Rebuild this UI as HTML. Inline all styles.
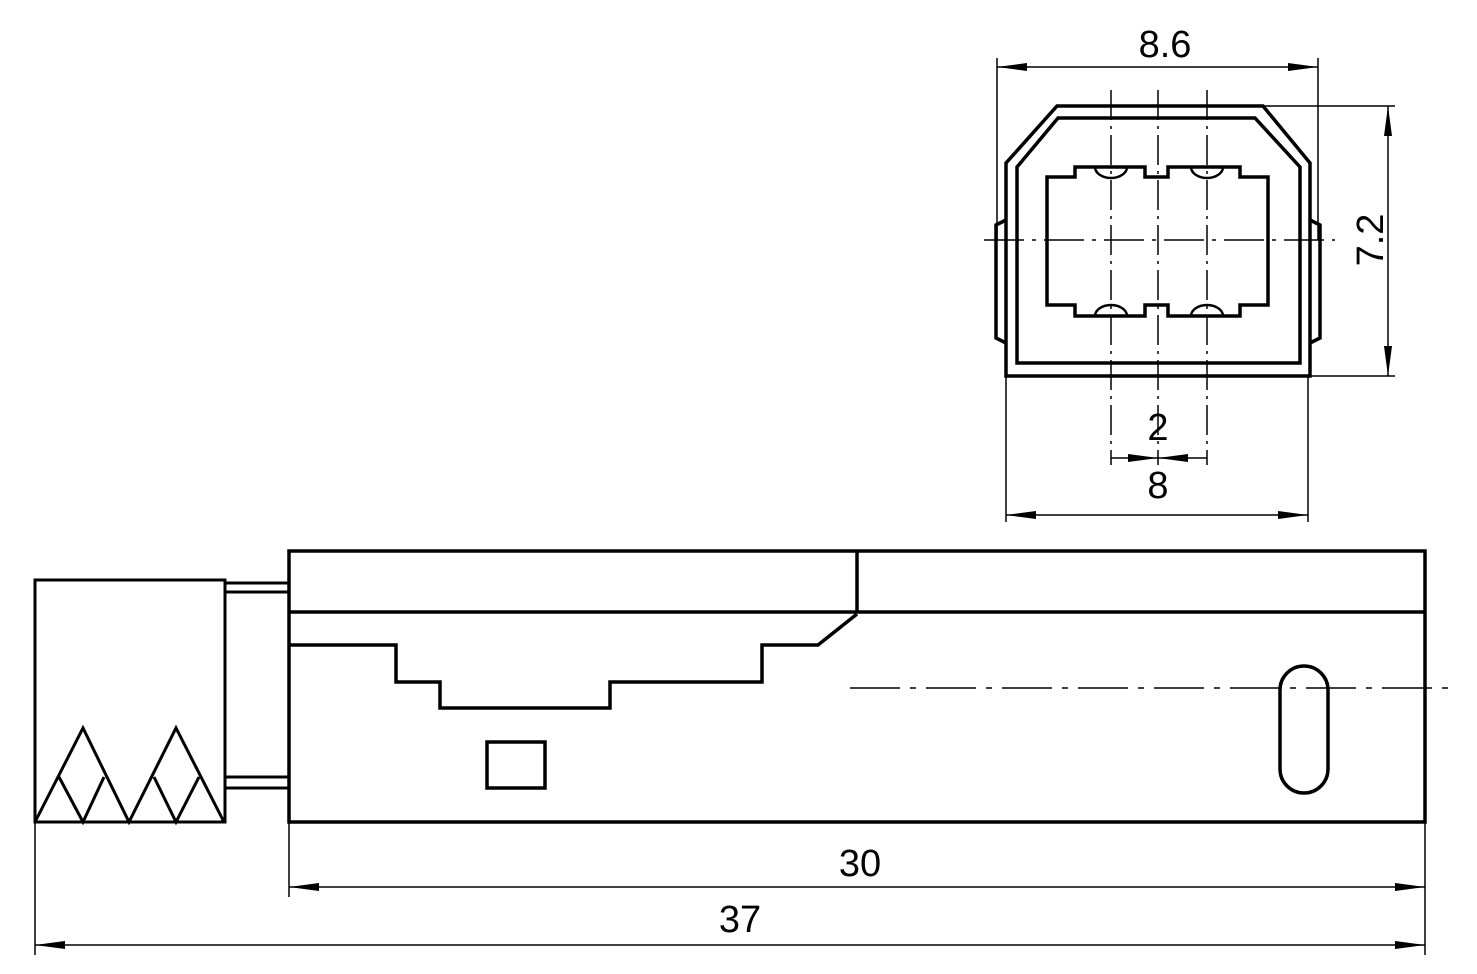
<!DOCTYPE html>
<html><head><style>html,body{margin:0;padding:0;background:#fff}svg{display:block}</style></head><body>
<svg width="1477" height="974" viewBox="0 0 1477 974" xmlns="http://www.w3.org/2000/svg">
<defs>
<marker id="a" viewBox="0 0 30 10" refX="30" refY="5" markerWidth="30" markerHeight="10" markerUnits="userSpaceOnUse" orient="auto-start-reverse"><path d="M0,1 L30,5 L0,9 z" fill="#000"/></marker>
</defs>
<g fill="none" stroke="#000" stroke-width="3.5" stroke-linejoin="miter">
<path d="M1006,376 L1006,163 L1057,106 L1263,106 L1310,163 L1310,376 Z"/>
<path d="M1017,363 L1017,167 L1058,118 L1255,118 L1300,167 L1300,363 Z"/>
<path d="M1006,220 L996,225 L996,338 L1006,343"/>
<path d="M1310,220 L1320,225 L1320,338 L1310,343"/>
<path d="M1047,177 L1075,177 L1075,167 L1145,167 L1145,177 L1168,177 L1168,167 L1240,167 L1240,177 L1268,177 L1268,305 L1240,305 L1240,316 L1168,316 L1168,305 L1145,305 L1145,316 L1075,316 L1075,305 L1047,305 Z"/>
<g stroke-width="2.5"><path d="M1095,167 A16,11 0 0 0 1127,167"/><path d="M1191,167 A16,11 0 0 0 1223,167"/><path d="M1095,316 A16,11 0 0 1 1127,316"/><path d="M1191,316 A16,11 0 0 1 1223,316"/></g>
<rect x="35" y="580" width="190" height="242" stroke-width="3"/>
<path d="M35,822 L83,728 L129,822 L176,728 L224,822 M59,777 L83,822 L104,777 M154,777 L176,822 L199,777" stroke-width="3"/>
<path d="M225,583 H289 M225,592 H289 M225,777 H289 M225,788 H289" stroke-width="3"/>
<rect x="289" y="551" width="1136" height="271"/>
<path d="M289,612 H1425 M857,551 V612"/>
<path d="M289,645 H396 V682 H440 V708 H610 V682 H762 V645 H818 L857,614"/>
<rect x="487" y="742" width="58" height="46"/>
<rect x="1280" y="666" width="48" height="127" rx="24"/>
</g>
<g fill="none" stroke="#000" stroke-width="1.5">
<path d="M1111,90 V465 M1158,90 V465 M1207,90 V465" stroke-dasharray="30,6,3,6"/>
<path d="M984,240 H1335" stroke-dasharray="40,8,4,8"/>
<path d="M850,688 H1452" stroke-dasharray="50,10,6,10"/>
<path d="M997,58 V240 M1318,58 V240"/>
<path d="M997,67 H1318" marker-start="url(#a)" marker-end="url(#a)"/>
<path d="M1263,106 H1395 M1310,376 H1395"/>
<path d="M1388,106 V376" marker-start="url(#a)" marker-end="url(#a)"/>
<path d="M1006,376 V522 M1308,376 V522"/>
<path d="M1006,515 H1308" marker-start="url(#a)" marker-end="url(#a)"/>
<path d="M1111,458 H1158" marker-end="url(#a)"/>
<path d="M1207,458 H1158" marker-end="url(#a)"/>
<path d="M289,822 V897 M1425,822 V955 M35,822 V955"/>
<path d="M289,887 H1425" marker-start="url(#a)" marker-end="url(#a)"/>
<path d="M35,945 H1425" marker-start="url(#a)" marker-end="url(#a)"/>
</g>
<g font-family="Liberation Sans, sans-serif" font-size="38" text-anchor="middle" fill="#000">
<text x="1165" y="57">8.6</text>
<text x="1158" y="440">2</text>
<text x="1158" y="498">8</text>
<text x="860" y="876">30</text>
<text x="740" y="932">37</text>
<text transform="translate(1383,240) rotate(-90)">7.2</text>
</g>
</svg>
</body></html>
